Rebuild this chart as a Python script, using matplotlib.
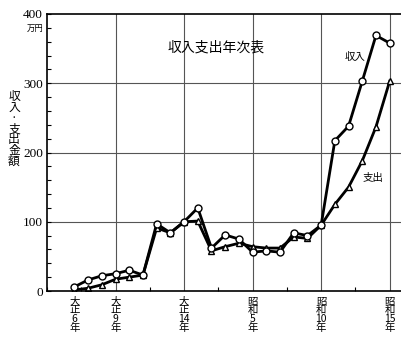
import matplotlib
matplotlib.use('Agg')
import matplotlib.pyplot as plt
from matplotlib.ticker import MultipleLocator

plt.rcParams['font.family'] = ['Noto Sans CJK JP', 'DejaVu Sans']

# 年次 (大正6年 = 1917 ... 昭和15年 = 1940)
years = list(range(1917, 1941))
# 収入 (万円)
income = [6, 16, 22, 25, 30, 23, 97, 84, 100, 120, 62, 81,
          75, 56, 58, 56, 84, 80, 95, 217, 238, 303, 369, 358]
# 支出 (万円)
expense = [1.5, 4, 9, 17, 20, 23, 91, 84, 100, 101, 58, 64,
           69, 64, 62, 62, 78, 76, 95, 125, 150, 188, 237, 303]

tick_years = [1917, 1920, 1925, 1930, 1935, 1940]
tick_labels = ['大\n正\n6\n年', '大\n正\n9\n年', '大\n正\n14\n年',
               '昭\n和\n5\n年', '昭\n和\n10\n年', '昭\n和\n15\n年']

fig = plt.figure(figsize=(4.02, 3.42), dpi=100)
ax = fig.add_axes([47 / 402, 1 - 291 / 342, (402 - 47) / 402, (291 - 14) / 342])

ax.set_xlim(1915, 1940.9)
ax.set_ylim(0, 400)

# grid
for gx in [1920, 1925, 1930, 1935, 1940]:
    ax.axvline(gx, color='#555555', lw=0.8, zorder=0)
for gy in [100, 200, 300]:
    ax.axhline(gy, color='#555555', lw=0.8, zorder=0)

ax.plot(years, income, color='black', lw=2.0, marker='o', ms=5,
        mfc='white', mec='black', mew=1.0, zorder=3)
ax.plot(years, expense, color='black', lw=2.0, marker='^', ms=4,
        mfc='white', mec='black', mew=1.0, zorder=2)

ax.yaxis.set_major_locator(MultipleLocator(100))
ax.yaxis.set_minor_locator(MultipleLocator(20))
ax.xaxis.set_minor_locator(MultipleLocator(2.5))
ax.set_xticks(tick_years)
ax.set_xticklabels(tick_labels, fontsize=7.5, linespacing=0.85, va='top')
ax.tick_params(axis='both', which='both', direction='in', length=3, width=0.8)
ax.tick_params(axis='x', which='major', length=0, pad=4)
ax.tick_params(axis='y', labelsize=9.5, pad=3, labelfontfamily='Liberation Serif')
for s in ax.spines.values():
    s.set_linewidth(1.2)
ax.spines['right'].set_visible(False)

fig.text(35 / 402, 1 - 28 / 342, '万円', fontsize=6, ha='center', va='center')
fig.text(14 / 402, 1 - 129 / 342, '収\n入\n·\n支\n出\n金\n額', fontsize=8.5,
         ha='center', va='center', linespacing=0.78)

ax.text(1927.35, 351, '収入支出年次表', fontsize=10, ha='center', va='center')
ax.text(1937.5, 338, '収入', fontsize=7.5, ha='center', va='center')
ax.text(1938.75, 163, '支出', fontsize=7.5, ha='center', va='center')

fig.savefig('out.png', dpi=100)
